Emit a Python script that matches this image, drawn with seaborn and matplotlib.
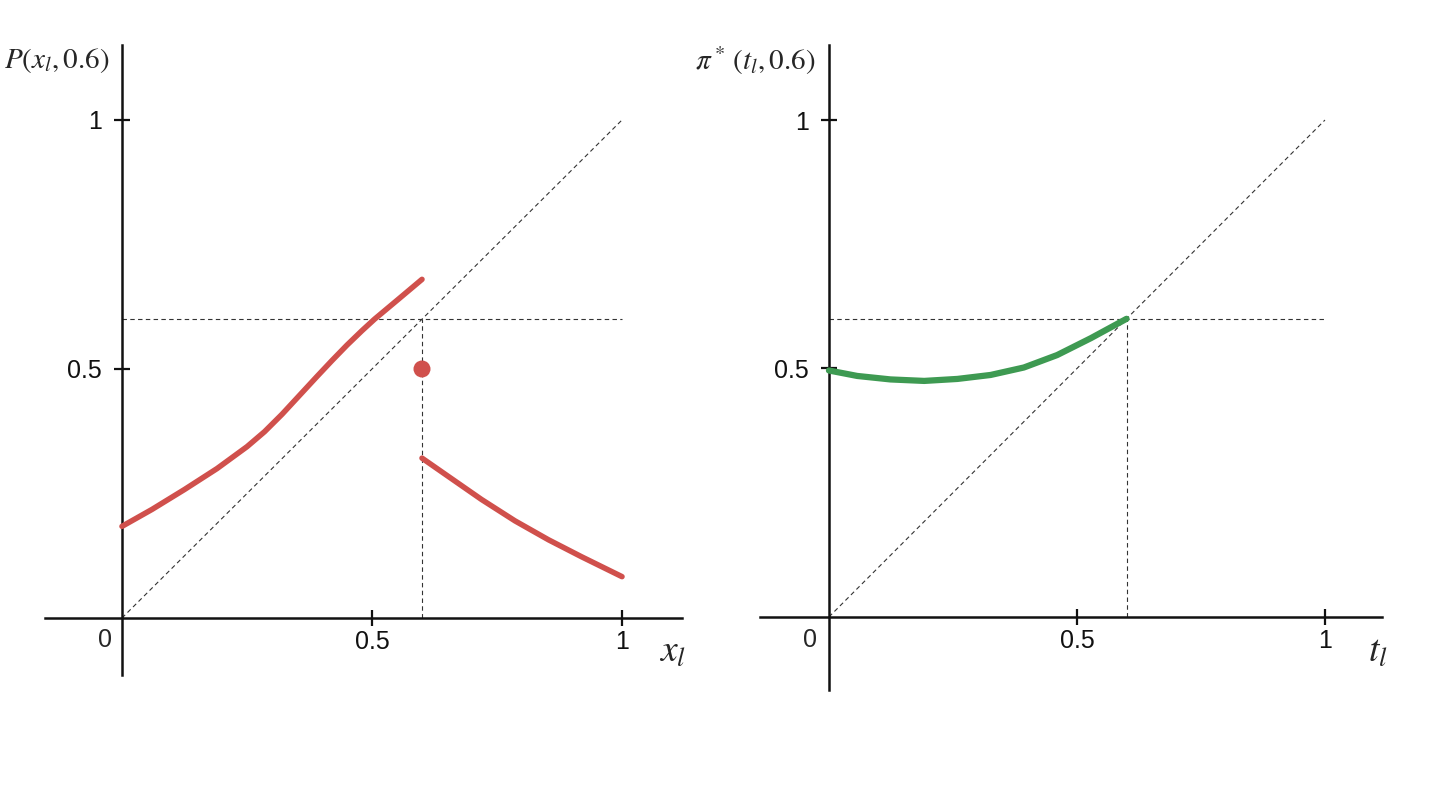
import matplotlib.pyplot as plt
import numpy as np
import pandas as pd
import seaborn as sns

# Левая панель: P(x_l, 0.6), две ветви и отдельная точка
x_left = [0.0, 0.06, 0.125, 0.19, 0.25, 0.285, 0.32, 0.355, 0.39, 0.42,
          0.45, 0.48, 0.505, 0.555, 0.6]
p_left = [0.184, 0.218, 0.258, 0.300, 0.344, 0.374, 0.409, 0.447, 0.485,
          0.517, 0.548, 0.577, 0.600, 0.642, 0.680]
x_right = [0.6, 0.653, 0.719, 0.786, 0.853, 0.919, 1.0]
p_right = [0.321, 0.284, 0.238, 0.195, 0.157, 0.123, 0.083]
dot_x = [0.6]
dot_y = [0.5]

# Правая панель: pi*(t_l, 0.6)
t_vals = [0.0, 0.057, 0.124, 0.192, 0.259, 0.326, 0.393, 0.46, 0.528, 0.6]
pi_vals = [0.496, 0.485, 0.478, 0.475, 0.479, 0.487, 0.502, 0.527, 0.561, 0.6]

level = 0.6
ticks = [0.5, 1]
tick_labels = ['0.5', '1']

sns.set_style('white')
plt.rcParams['font.family'] = ['Liberation Sans', 'DejaVu Sans']
plt.rcParams['mathtext.fontset'] = 'stix'

red = '#d0504c'
green = '#3e9a52'

fig = plt.figure(figsize=(14.4, 8.1), dpi=100)
ax1 = fig.add_axes([45 / 1440, 135 / 810, 637 / 1440, 630 / 810])
ax2 = fig.add_axes([760 / 1440, 120 / 810, 622 / 1440, 645 / 810])


def setup(ax, xlim, ylim):
    ax.set_xlim(*xlim)
    ax.set_ylim(*ylim)
    for s in ['top', 'right']:
        ax.spines[s].set_visible(False)
    for s in ['left', 'bottom']:
        ax.spines[s].set_position(('data', 0))
        ax.spines[s].set_linewidth(1.8)
        ax.spines[s].set_color('#111111')
    ax.set_xticks(ticks)
    ax.set_xticklabels(tick_labels)
    ax.set_yticks(ticks)
    ax.set_yticklabels(tick_labels)
    ax.tick_params(bottom=True, left=True, direction='inout', length=11,
                   width=1.6, labelsize=18, colors='#111111')
    ax.tick_params(axis='x', pad=3)
    ax.tick_params(axis='y', pad=9)
    # пунктир: диагональ и уровни 0.6
    kw = dict(color='#333333', lw=0.8, ls=(0, (4, 3)), zorder=1)
    ax.plot([0, 1], [0, 1], **kw)
    ax.plot([0, 1], [level, level], **kw)
    ax.plot([level, level], [0, level], **kw)


setup(ax1, (-0.154, 1.12), (-0.1145, 1.1506))
setup(ax2, (-0.139, 1.115), (-0.147, 1.151))

df1 = pd.DataFrame({'x': x_left, 'p': p_left})
df2 = pd.DataFrame({'x': x_right, 'p': p_right})
sns.lineplot(data=df1, x='x', y='p', ax=ax1, color=red, lw=4, sort=False,
             solid_capstyle='round', solid_joinstyle='round', zorder=3)
sns.lineplot(data=df2, x='x', y='p', ax=ax1, color=red, lw=4, sort=False,
             solid_capstyle='round', solid_joinstyle='round', zorder=3)
sns.scatterplot(x=dot_x, y=dot_y, ax=ax1, color=red, s=150, edgecolor='none',
                zorder=4)

df3 = pd.DataFrame({'t': t_vals, 'pi': pi_vals})
sns.lineplot(data=df3, x='t', y='pi', ax=ax2, color=green, lw=4.5, sort=False,
             solid_capstyle='round', solid_joinstyle='round', zorder=3)

for ax in (ax1, ax2):
    ax.set_xlabel('')
    ax.set_ylabel('')

# подписи осей
ax1.text(-0.024, 1.12, r'$P(x_l,0.6)$', ha='right', va='center', fontsize=21)
ax1.text(1.1, -0.068, r'$x_l$', ha='center', va='center', fontsize=27)
ax1.text(-0.034, -0.044, '0', ha='center', va='center', fontsize=18)

ax2.text(-0.028, 1.12, r'$\pi^*\,(t_l,0.6)$', ha='right', va='center', fontsize=21)
ax2.text(1.107, -0.07, r'$t_l$', ha='center', va='center', fontsize=27)
ax2.text(-0.038, -0.046, '0', ha='center', va='center', fontsize=18)

plt.savefig('out.png', dpi=100)
